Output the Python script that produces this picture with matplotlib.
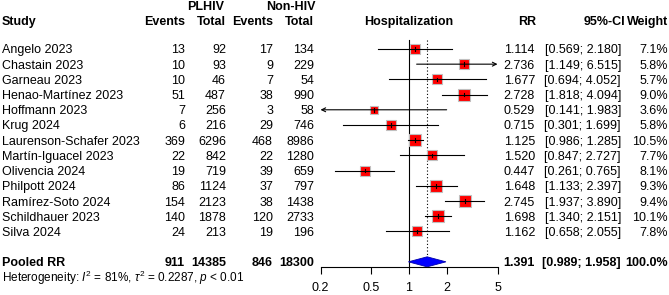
import numpy as np
import matplotlib.pyplot as plt
from matplotlib.transforms import blended_transform_factory

plt.rcParams['font.family'] = ['Liberation Sans', 'DejaVu Sans']
plt.rcParams['mathtext.fontset'] = 'custom'
plt.rcParams['mathtext.rm'] = 'Liberation Sans'
plt.rcParams['mathtext.it'] = 'Liberation Sans:italic'

studies = ["Angelo 2023", "Chastain 2023", "Garneau 2023", "Henao-Martínez 2023",
           "Hoffmann 2023", "Krug 2024", "Laurenson-Schafer 2023", "Martín-Iguacel 2023",
           "Olivencia 2024", "Philpott 2024", "Ramírez-Soto 2024", "Schildhauer 2023",
           "Silva 2024"]
ev_hiv = [13, 10, 10, 51, 7, 6, 369, 22, 19, 86, 154, 140, 24]
n_hiv = [92, 93, 46, 487, 256, 216, 6296, 842, 719, 1124, 2123, 1878, 213]
ev_non = [17, 9, 7, 38, 3, 29, 468, 22, 39, 37, 38, 120, 19]
n_non = [134, 229, 54, 990, 58, 746, 8986, 1280, 659, 797, 1438, 2733, 196]
rr = [1.114, 2.736, 1.677, 2.728, 0.529, 0.715, 1.125, 1.520, 0.447, 1.648, 2.745, 1.698, 1.162]
lo = [0.569, 1.149, 0.694, 1.818, 0.141, 0.301, 0.986, 0.847, 0.261, 1.133, 1.937, 1.340, 0.658]
hi = [2.180, 6.515, 4.052, 4.094, 1.983, 1.699, 1.285, 2.727, 0.765, 2.397, 3.890, 2.151, 2.055]
weight = [7.1, 5.8, 5.7, 9.0, 3.6, 5.8, 10.5, 7.7, 8.1, 9.3, 9.4, 10.1, 7.8]

pooled_rr, pooled_lo, pooled_hi = 1.391, 0.989, 1.958
pooled_tot = [911, 14385, 846, 18300]
het_text = r"Heterogeneity: $I^2$ = 81%, $\tau^2$ = 0.2287, $p$ < 0.01"
ticks = [0.2, 0.5, 1, 2, 5]

W, H = 669, 295
fig = plt.figure(figsize=(W / 100, H / 100), dpi=100)

# forest axes: x from 0.2 (px 320.5) to 5 (px 497.5), y rows, bottom at px 267
x0, x1 = 320.5, 497.5
ax = fig.add_axes([x0 / W, (H - 267) / H, (x1 - x0) / W, 267 / H])
ax.set_xscale('log')
ax.set_xlim(0.2, 5)
ax.set_ylim(15.34, -2.22)
for s in ['top', 'left', 'right']:
    ax.spines[s].set_visible(False)
ax.spines['bottom'].set_linewidth(0.8)
ax.set_yticks([])
ax.set_xticks(ticks)
ax.set_xticklabels([f"{t:g}" for t in ticks], fontsize=9)
ax.minorticks_off()
ax.tick_params(axis='x', length=5, width=0.8, pad=6)
ax.patch.set_visible(False)

rows = np.arange(1, len(studies) + 1)
pooled_row = 15
het_row = 15.92

ax.plot([1, 1], [0.4, 15.34], color='black', lw=0.8)
ax.plot([pooled_rr, pooled_rr], [0.4, 15], color='black', lw=0.8, ls=(0, (1, 2)))

for r, e, l, h, w in zip(rows, rr, lo, hi, weight):
    side = 12.5 * np.sqrt(w / 10.5) * 0.72
    ax.plot(e, r, marker='s', ms=side, color='red', mec='#c0c0c0', mew=0.8, zorder=3)
    ll, hh = max(l, 0.2), min(h, 5)
    if h > 5 or l < 0.2:
        start, end = (ll, hh) if h > 5 else (hh, ll)
        ax.annotate('', xy=(end, r), xytext=(start, r),
                    arrowprops=dict(arrowstyle='->', lw=0.8, color='black',
                                    shrinkA=0, shrinkB=0, mutation_scale=7),
                    annotation_clip=False, zorder=4)
    else:
        ax.plot([ll, hh], [r, r], color='black', lw=0.8, zorder=4)
    ax.plot([e, e], [r - 0.12, r + 0.12], color='black', lw=0.8, zorder=4)

dh = 0.33
ax.fill([pooled_lo, pooled_rr, pooled_hi, pooled_rr],
        [pooled_row, pooled_row - dh, pooled_row, pooled_row + dh],
        facecolor='#0000ff', edgecolor='#0000aa', lw=0.6, zorder=3)

tr = blended_transform_factory(fig.transFigure, ax.transData)
fs = 9


def txt(px, row, s, ha='right', bold=False, size=fs):
    ax.text(px / W, row, s, transform=tr, ha=ha, va='center_baseline', fontsize=size,
            fontweight='bold' if bold else 'normal', clip_on=False)


# headers
hdr1, hdr2 = -1.88, -0.9
txt(224, hdr1, "PLHIV", bold=True)
txt(316, hdr1, "Non-HIV", bold=True)
txt(2, hdr2, "Study", ha='left', bold=True)
txt(185, hdr2, "Events", bold=True)
txt(226, hdr2, "Total", bold=True)
txt(273, hdr2, "Events", bold=True)
txt(314, hdr2, "Total", bold=True)
txt(409, hdr2, "Hospitalization", ha='center', bold=True)
txt(536, hdr2, "RR", bold=True)
txt(625, hdr2, "95%-CI", bold=True)
txt(668, hdr2, "Weight", bold=True)

for r, name, a, b, c, d, e, l, h, w in zip(rows, studies, ev_hiv, n_hiv, ev_non, n_non,
                                            rr, lo, hi, weight):
    txt(2, r, name, ha='left')
    txt(185, r, str(a))
    txt(226, r, str(b))
    txt(273, r, str(c))
    txt(314, r, str(d))
    txt(535, r, f"{e:.3f}")
    txt(621, r, f"[{l:.3f}; {h:.3f}]")
    txt(668, r, f"{w:.1f}%")

txt(2, pooled_row, "Pooled RR", ha='left', bold=True)
for px, v in zip([185, 226, 273, 314], pooled_tot):
    txt(px, pooled_row, str(v), bold=True)
txt(535, pooled_row, f"{pooled_rr:.3f}", bold=True)
txt(621, pooled_row, f"[{pooled_lo:.3f}; {pooled_hi:.3f}]", bold=True)
txt(668, pooled_row, "100.0%", bold=True)
txt(2, het_row, het_text, ha='left', size=8.5)

fig.savefig('out.png', dpi=100)
